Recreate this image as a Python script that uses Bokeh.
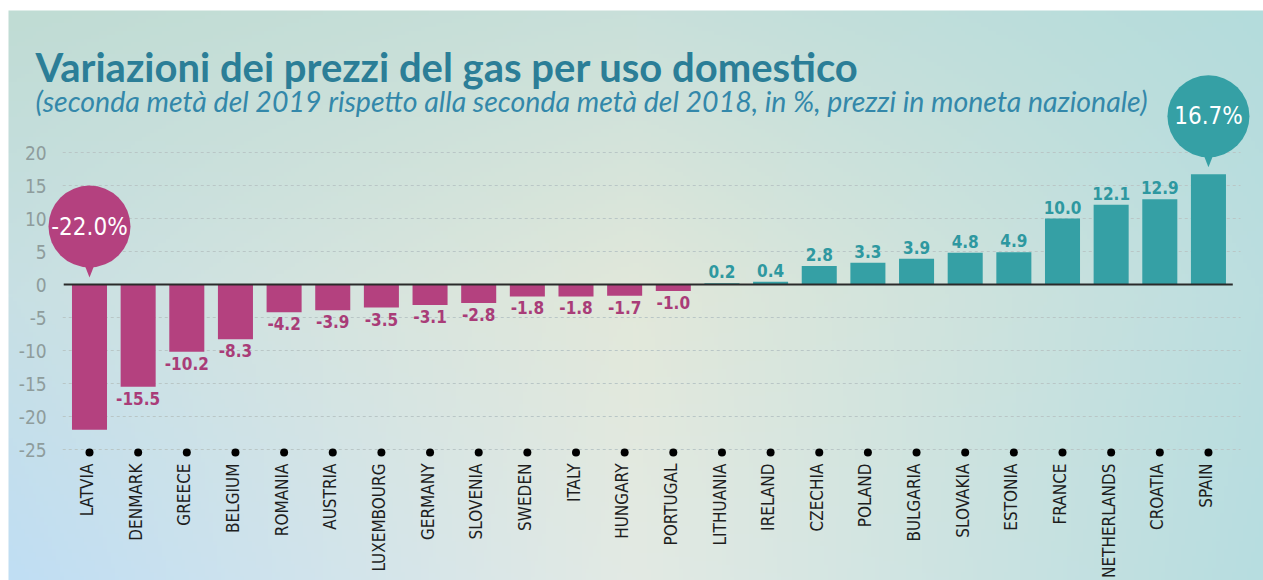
import numpy as np
from bokeh.plotting import figure
from bokeh.models import Range1d
from bokeh.core.properties import value
from bokeh.embed import file_html
from bokeh.resources import INLINE

# ---------------- data ----------------
countries = ["LATVIA", "DENMARK", "GREECE", "BELGIUM", "ROMANIA", "AUSTRIA",
             "LUXEMBOURG", "GERMANY", "SLOVENIA", "SWEDEN", "ITALY", "HUNGARY",
             "PORTUGAL", "LITHUANIA", "IRELAND", "CZECHIA", "POLAND", "BULGARIA",
             "SLOVAKIA", "ESTONIA", "FRANCE", "NETHERLANDS", "CROATIA", "SPAIN"]
values = [-22.0, -15.5, -10.2, -8.3, -4.2, -3.9, -3.5, -3.1, -2.8, -1.8, -1.8, -1.7,
          -1.0, 0.2, 0.4, 2.8, 3.3, 3.9, 4.8, 4.9, 10.0, 12.1, 12.9, 16.7]
y_ticks = [20, 15, 10, 5, 0, -5, -10, -15, -20, -25]

title = "Variazioni dei prezzi del gas per uso domestico"
subtitle = ("(seconda metà del 2019 rispetto alla seconda metà del 2018, in %, "
            "prezzi in moneta nazionale)")

# ---------------- styles ----------------
PINK = "#B4417F"
TEAL = "#35A0A5"
PINK_TXT = "#A93C78"
TEAL_TXT = "#2E98A0"
NARROW = "DejaVu Sans Condensed, Roboto"

W, H = 1263, 580
X0, DX = 89, 48.65     # pixel of first category, pixels per category
Y0, DY = 284, 6.6      # pixel of zero, pixels per unit


def dx(px):
    return (px - X0) / DX


def dy(py):
    return (Y0 - py) / DY


p = figure(width=W, height=H, x_range=Range1d(dx(0), dx(W)),
           y_range=Range1d(dy(H), dy(0)), output_backend="svg",
           toolbar_location=None, min_border=0, x_axis_type=None,
           y_axis_type=None)
p.outline_line_color = None
p.background_fill_color = "white"
p.border_fill_color = "white"

# ---------------- background gradient ----------------
ctrl = np.array([
    [[0xC0, 0xDC, 0xD4], [0xC9, 0xE0, 0xDA], [0xB4, 0xDC, 0xDC]],
    [[0xC8, 0xE0, 0xE4], [0xE2, 0xE8, 0xDA], [0xBC, 0xDE, 0xE0]],
    [[0xC0, 0xDE, 0xF4], [0xE3, 0xEA, 0xE4], [0xB7, 0xDD, 0xE0]],
], dtype=float)
gw, gh = 320, 145
xs = np.linspace(0, 1, gw)
ys = np.linspace(0, 1, gh)
rows = np.zeros((3, gw, 3))
for r in range(3):
    for c in range(3):
        rows[r, :, c] = np.interp(xs, [0, 0.5, 1], ctrl[r, :, c])
grad = np.zeros((gh, gw, 3))
for j in range(gw):
    for c in range(3):
        grad[:, j, c] = np.interp(ys, [0, 0.5, 1], rows[:, j, c])
img = np.zeros((gh, gw), dtype=np.uint32)
view = img.view(dtype=np.uint8).reshape((gh, gw, 4))
view[:, :, :3] = np.flipud(grad).astype(np.uint8)
view[:, :, 3] = 255
p.image_rgba(image=[img], x=dx(8), y=dy(H), dw=dx(W) - dx(8), dh=dy(10) - dy(H))

n = len(countries)
idx = list(range(n))

# ---------------- grid + y tick labels ----------------
grid_t = [t for t in y_ticks if t != 0]
p.segment(x0=[-0.55] * len(grid_t), x1=[n - 1 + 0.66] * len(grid_t),
          y0=grid_t, y1=grid_t, line_color="#B9C6C6", line_width=1,
          line_dash="3 3")
p.text(x=[-0.88] * len(y_ticks), y=y_ticks, text=[str(t) for t in y_ticks],
       text_align="right", text_baseline="middle", text_font=value(NARROW),
       text_font_size="19px", text_color="#8E9C9C")

# ---------------- bars ----------------
colors = [PINK if v < 0 else TEAL for v in values]
p.vbar(x=idx, top=values, bottom=0, width=0.72, fill_color=colors,
       line_color=None)
p.segment(x0=[-0.53], x1=[n - 1 + 0.5], y0=[0], y1=[0], line_color="#2A2A2A",
          line_width=2)

# value labels (except extremes which get bubbles)
vmin_i = int(np.argmin(values))
vmax_i = int(np.argmax(values))
neg_i = [i for i in idx if values[i] < 0 and i != vmin_i]
pos_i = [i for i in idx if values[i] >= 0 and i != vmax_i]
p.text(x=neg_i, y=[values[i] for i in neg_i],
       text=[f"{values[i]:.1f}" for i in neg_i], text_align="center",
       text_baseline="top", y_offset=5, text_font=value(NARROW),
       text_font_style="bold", text_font_size="17px", text_color=PINK_TXT)
p.text(x=pos_i, y=[values[i] for i in pos_i],
       text=[f"{values[i]:.1f}" for i in pos_i], text_align="center",
       text_baseline="bottom", y_offset=-5, text_font=value(NARROW),
       text_font_style="bold", text_font_size="17px", text_color=TEAL_TXT)

# ---------------- bubbles ----------------
gap = 7 / DY
rise = 51 / DY
for i, col in ((vmin_i, PINK), (vmax_i, TEAL)):
    tip = max(values[i], 0) + gap
    cy = tip + rise
    p.patch(x=[i - 0.21, i + 0.21, i], y=[cy - 25 / DY, cy - 25 / DY, tip],
            fill_color=col, line_color=None)
    p.scatter(x=[i], y=[cy], size=82, marker="circle", fill_color=col,
              line_color=None)
    p.text(x=[i], y=[cy], text=[f"{values[i]:.1f}%"], text_align="center",
           text_baseline="middle", text_font=value(NARROW),
           text_font_size="24px", text_color="white")

# ---------------- category axis (dots + rotated labels) ----------------
p.scatter(x=idx, y=[y_ticks[-1] - 3 / DY] * n, size=8, marker="circle",
          fill_color="black", line_color=None)
p.text(x=[i - 0.05 for i in idx], y=[dy(463)] * n, text=countries,
       angle=np.pi / 2, text_align="right", text_baseline="middle",
       text_font=value(NARROW), text_font_size="17px", text_color="#1E1E1E")

# ---------------- titles ----------------
p.text(x=[dx(35)], y=[dy(66)], text=[title], text_align="left",
       text_baseline="alphabetic", text_font=value("Lato"),
       text_font_style="bold", text_font_size="40px", text_color="#2B7E97")
p.text(x=[dx(35)], y=[dy(100)], text=[subtitle], text_align="left",
       text_baseline="alphabetic", text_font=value("Lato"),
       text_font_style="italic", text_font_size="28.5px", text_color="#3388AA")

open("out.html", "w").write(file_html(p, INLINE))
